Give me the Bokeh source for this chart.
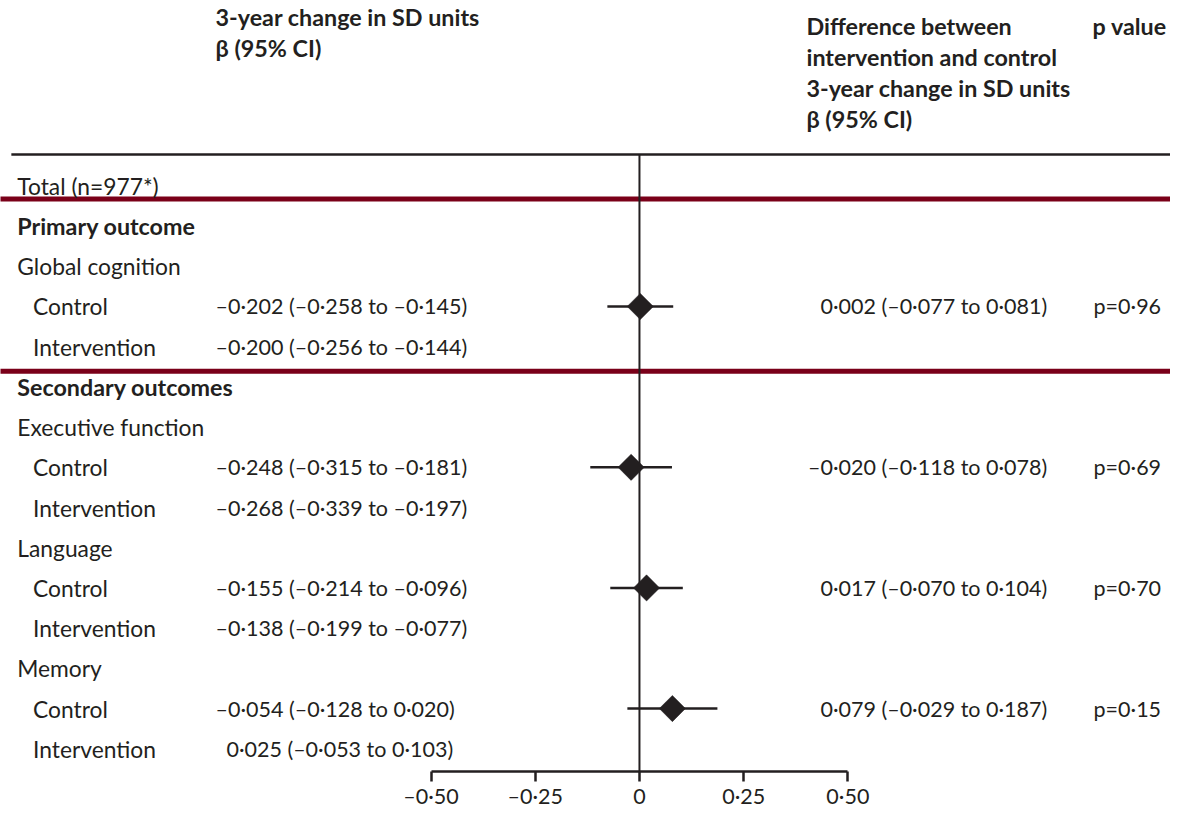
from bokeh.plotting import figure
from bokeh.models import Range1d, ColumnDataSource, FixedTicker, CustomJSTickFormatter
from bokeh.core.properties import value
from bokeh.embed import file_html
from bokeh.resources import INLINE

# ---- data ----
row_labels = ["Total (n=977*)", "Primary outcome", "Global cognition", "Control", "Intervention",
              "Secondary outcomes", "Executive function", "Control", "Intervention",
              "Language", "Control", "Intervention", "Memory", "Control", "Intervention"]
row_bold = [False, True, False, False, False, True, False, False, False, False, False, False, False, False, False]
row_indent = [False, False, False, True, True, False, False, True, True, False, True, True, False, True, True]

group_rows = [3, 4, 7, 8, 10, 11, 13, 14]
group_beta = ["–0·202 (–0·258 to –0·145)", "–0·200 (–0·256 to –0·144)",
              "–0·248 (–0·315 to –0·181)", "–0·268 (–0·339 to –0·197)",
              "–0·155 (–0·214 to –0·096)", "–0·138 (–0·199 to –0·077)",
              "–0·054 (–0·128 to 0·020)", "0·025 (–0·053 to 0·103)"]

diff_rows = [3, 7, 10, 13]
diff_est = [0.002, -0.020, 0.017, 0.079]
diff_lo = [-0.077, -0.118, -0.070, -0.029]
diff_hi = [0.081, 0.078, 0.104, 0.187]
diff_text = ["0·002 (–0·077 to 0·081)", "–0·020 (–0·118 to 0·078)",
             "0·017 (–0·070 to 0·104)", "0·079 (–0·029 to 0·187)"]
p_text = ["p=0·96", "p=0·69", "p=0·70", "p=0·15"]

tick_values = [-0.5, -0.25, 0, 0.25, 0.5]
tick_labels = ["–0·50", "–0·25", "0", "0·25", "0·50"]

# ---- layout helpers (reference pixel -> data) ----
W, H = 1170, 812
SY = H / 828.0
X0 = 647.7      # ref x of zero
SCALE = 422.5   # ref px per unit
Y0 = 189.0      # ref y of row 0
ROWH = 41.0     # ref px per row
BOTTOM = 41     # px reserved for axis

def px(xp):
    return (xp - X0) / SCALE

def py(yp):
    return (yp - Y0) / ROWH

FONT = "Lato"
FS_NUM = "21.5px"
FS_WORD = "22.8px"
FS_BOLD = "23.3px"
TC = "#231f20"
RED = "#7a0019"

p = figure(width=W, height=H, output_backend="svg", toolbar_location=None,
           x_range=Range1d(px(0), px(1186)),
           y_range=Range1d(py((H - BOTTOM) / SY), py(0)),
           min_border_left=0, min_border_right=0, min_border_top=0, min_border_bottom=BOTTOM)
p.outline_line_color = None
p.grid.visible = False
p.yaxis.visible = False
p.background_fill_color = "white"
p.border_fill_color = "white"

ax = p.xaxis[0]
ax.ticker = FixedTicker(ticks=tick_values)
ax.bounds = (tick_values[0], tick_values[-1])
ax.formatter = CustomJSTickFormatter(args=dict(vals=tick_values, labs=tick_labels), code="""
for (let i = 0; i < vals.length; i++) {
  if (Math.abs(vals[i] - tick) < 1e-9) return labs[i];
}
return String(tick);
""")
ax.axis_line_width = 2.5
ax.axis_line_color = TC
ax.major_tick_line_width = 2.5
ax.major_tick_line_color = TC
ax.major_tick_out = 10
ax.major_tick_in = 0
ax.minor_tick_line_color = None
ax.major_label_standoff = 1
ax.major_label_text_font = FONT
ax.major_label_text_font_size = FS_NUM
ax.major_label_text_color = TC

# rules
p.segment(x0=[px(11)], x1=[px(1200)], y0=[py(157)], y1=[py(157)], line_color=TC, line_width=2.5)
p.segment(x0=[px(-5), px(-5)], x1=[px(1200), px(1200)], y0=[py(202.5), py(378)], y1=[py(202.5), py(378)],
          line_color=RED, line_width=5)
# zero line
p.segment(x0=[0], x1=[0], y0=[py(157)], y1=[py(800)], line_color=TC, line_width=2)

# CI and diamonds
src = ColumnDataSource(dict(y=diff_rows, est=diff_est, lo=diff_lo, hi=diff_hi))
p.segment(x0="lo", x1="hi", y0="y", y1="y", source=src, line_color=TC, line_width=2.5)
p.scatter(x="est", y="y", source=src, marker="square", size=18.5, angle=0.7853981634,
          fill_color=TC, line_color=TC, line_width=0.5)

# row labels
for i, (lab, b, ind) in enumerate(zip(row_labels, row_bold, row_indent)):
    p.text(x=[px(33 if ind else 17)], y=[i], text=[lab], text_font=value(FONT),
           text_font_size=FS_BOLD if b else FS_WORD,
           text_font_style="bold" if b else "normal", text_color=TC,
           text_baseline="middle", text_align="left")

# group estimates
for r, t in zip(group_rows, group_beta):
    xs = 218 if t.startswith("–") else 229
    p.text(x=[px(xs)], y=[r], text=[t], text_font=value(FONT), text_font_size=FS_NUM, text_color=TC,
           text_baseline="middle", text_align="left")

# differences and p values
for r, t, pv in zip(diff_rows, diff_text, p_text):
    p.text(x=[px(1061)], y=[r], text=[t], text_font=value(FONT), text_font_size=FS_NUM, text_color=TC,
           text_baseline="middle", text_align="right")
    p.text(x=[px(1108)], y=[r], text=[pv], text_font=value(FONT), text_font_size=FS_NUM, text_color=TC,
           text_baseline="middle", text_align="left")

# headers
hdr_left = ["3-year change in SD units", "β (95% CI)"]
for j, t in enumerate(hdr_left):
    p.text(x=[px(218)], y=[py(17 + 31 * j)], text=[t], text_font=value(FONT), text_font_size=FS_BOLD,
           text_font_style="bold", text_color=TC, text_baseline="middle", text_align="left")
hdr_right = ["Difference between", "intervention and control", "3-year change in SD units", "β (95% CI)"]
for j, t in enumerate(hdr_right):
    p.text(x=[px(817)], y=[py(26 + 31.5 * j)], text=[t], text_font=value(FONT), text_font_size=FS_BOLD,
           text_font_style="bold", text_color=TC, text_baseline="middle", text_align="left")
p.text(x=[px(1107)], y=[py(26)], text=["p value"], text_font=value(FONT), text_font_size=FS_BOLD,
       text_font_style="bold", text_color=TC, text_baseline="middle", text_align="left")

open("out.html", "w").write(file_html(p, INLINE))
